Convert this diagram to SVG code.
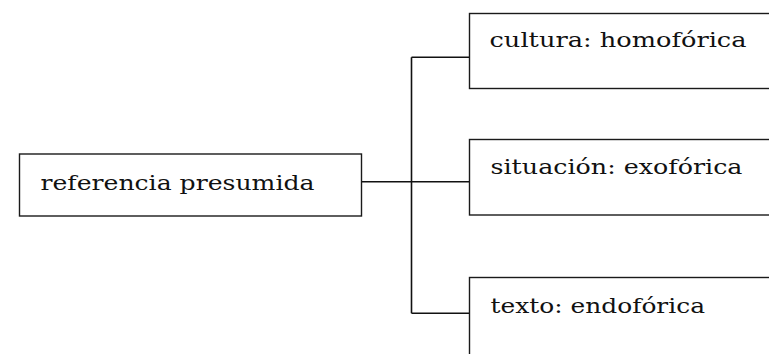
<svg xmlns="http://www.w3.org/2000/svg" width="769" height="354" viewBox="0 0 769 354">
<style>
.box{fill:#fff;stroke:#1a1a1a;stroke-width:1.4}
.lbl{font-family:"DejaVu Serif","Liberation Serif",serif;font-size:21px;fill:#111}
.con{fill:none;stroke:#111;stroke-width:1.6}
</style>
<rect width="769" height="354" fill="#fff"/>
<g id="connectors">
<path class="con" d="M362 181.7H411.5M411.5 57.3V313.3M411.5 57.3H469.5M411.5 181.7H469.5M411.5 313.3H469.5"/>
</g>
<g id="node-referencia">
<rect class="box" x="19.5" y="154" width="342" height="62"/>
<text class="lbl" x="40.5" y="189.5" textLength="274" lengthAdjust="spacingAndGlyphs">referencia presumida</text>
</g>
<g id="node-cultura">
<rect class="box" x="469.5" y="13.5" width="302" height="75"/>
<text class="lbl" x="489.5" y="47" textLength="257" lengthAdjust="spacingAndGlyphs">cultura: homofórica</text>
</g>
<g id="node-situacion">
<rect class="box" x="469.5" y="139.5" width="302" height="75.5"/>
<text class="lbl" x="490.5" y="174" textLength="252" lengthAdjust="spacingAndGlyphs">situación: exofórica</text>
</g>
<g id="node-texto">
<rect class="box" x="469.5" y="277.5" width="302" height="80"/>
<text class="lbl" x="490.5" y="313" textLength="214.5" lengthAdjust="spacingAndGlyphs">texto: endofórica</text>
</g>
</svg>
